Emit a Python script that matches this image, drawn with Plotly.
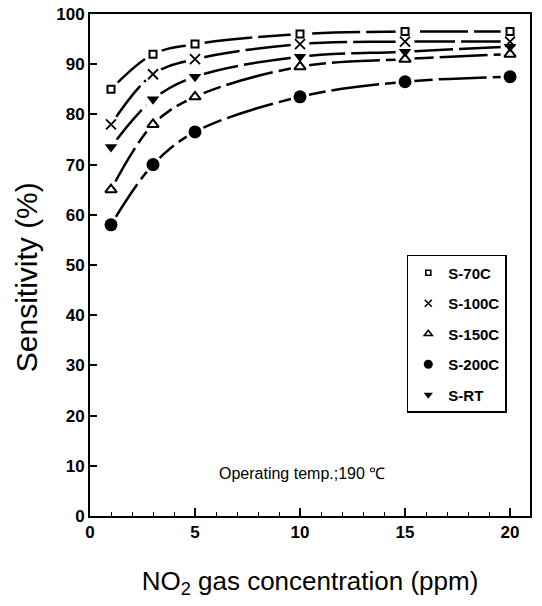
import plotly.graph_objects as go

conc = [1, 3, 5, 10, 15, 20]
series_names = ["S-70C", "S-100C", "S-150C", "S-200C", "S-RT"]
s70c = [85, 92, 94, 96, 96.5, 96.5]
s100c = [78, 88, 91, 94, 94.5, 94.5]
s150c = [65, 78, 83.5, 89.5, 91, 92]
s200c = [58, 70, 76.5, 83.5, 86.5, 87.5]
srt = [73.5, 83, 87.5, 91.5, 92.5, 93.5]
x_ticks = [0, 5, 10, 15, 20]
y_ticks = list(range(0, 101, 10))

values = [s70c, s100c, s150c, s200c, srt]
symbols = ["square-open", "x-thin-open", "triangle-up-open", "circle", "triangle-down"]
plot_sizes = [7, 10, 10, 13, 11]
legend_sizes = [5, 7, 7, 9, 8]
line_widths = [2, 1.8, 2, 0, 0]

FONT = "Liberation Sans, Arial, sans-serif"
fig = go.Figure()

# fitted curves
for name, vals in zip(series_names, values):
    fig.add_trace(go.Scatter(
        x=conc, y=vals, mode="lines", showlegend=False, hoverinfo="skip",
        line=dict(shape="spline", smoothing=1.0, color="black", width=2.5, dash="48px,6px"),
    ))
# white halos to open gaps around the points
for name, vals in zip(series_names, values):
    fig.add_trace(go.Scatter(
        x=conc, y=vals, mode="markers", showlegend=False, hoverinfo="skip",
        marker=dict(symbol="circle", size=19, color="white", line=dict(width=0)),
    ))
# data points
for name, vals, sym, sz, lw in zip(series_names, values, symbols, plot_sizes, line_widths):
    fig.add_trace(go.Scatter(
        x=conc, y=vals, mode="markers", name=name, showlegend=False,
        marker=dict(symbol=sym, size=sz, color="black", line=dict(width=lw, color="black")),
    ))
# legend entries (smaller symbols, as in the reference key)
for name, sym, sz, lw in zip(series_names, symbols, legend_sizes, line_widths):
    fig.add_trace(go.Scatter(
        x=[None], y=[None], mode="markers", name=name, legendgroup=name,
        marker=dict(symbol=sym, size=sz, color="black", line=dict(width=min(lw, 1.6), color="black")),
    ))

fig.add_annotation(
    x=10.1, y=8.4, xref="x", yref="y", text="Operating temp.;190 \u2103",
    showarrow=False, font=dict(family=FONT, size=16, color="black"),
)
fig.add_annotation(
    x=-0.145, y=0.476, xref="paper", yref="paper", text="Sensitivity (%)",
    textangle=-90, showarrow=False, xanchor="center", yanchor="middle",
    font=dict(family=FONT, size=30, color="black"),
)

fig.update_layout(
    width=542, height=606,
    margin=dict(l=90, r=12, t=14, b=90),
    paper_bgcolor="white", plot_bgcolor="white",
    font=dict(family=FONT, color="black"),
    legend=dict(
        x=0.72, y=0.52, xanchor="left", yanchor="top",
        bordercolor="black", borderwidth=1.5, bgcolor="white",
        font=dict(family=FONT, size=15, color="black", weight="bold"),
        tracegroupgap=8, itemsizing="trace", itemwidth=30,
    ),
    xaxis=dict(
        range=[0, 20.95], tickvals=x_ticks, ticks="inside", ticklen=8, tickwidth=1.5,
        tickcolor="black", showline=True, linewidth=2, linecolor="black", mirror=True,
        showgrid=False, zeroline=False, automargin=False, ticklabeloverflow="allow",
        tickfont=dict(family=FONT, size=17, color="black", weight="bold"),
        minor=dict(dtick=1, tick0=0, ticks="inside", ticklen=4, tickwidth=1.2, tickcolor="black", showgrid=False),
        title=dict(text="NO<sub>2</sub> gas concentration (ppm)", font=dict(family=FONT, size=26, color="black"), standoff=30),
    ),
    yaxis=dict(
        range=[0, 100], tickvals=y_ticks, ticks="inside", ticklen=7, tickwidth=1.5,
        tickcolor="black", showline=True, linewidth=2, linecolor="black", mirror=True,
        showgrid=False, zeroline=False, automargin=False, ticklabeloverflow="allow",
        tickfont=dict(family=FONT, size=17, color="black", weight="bold"),
    ),
)

fig.write_html(
    "out.html",
    config={"displayModeBar": False},
    post_script="document.body.style.margin='0';document.body.style.overflow='hidden';",
)
